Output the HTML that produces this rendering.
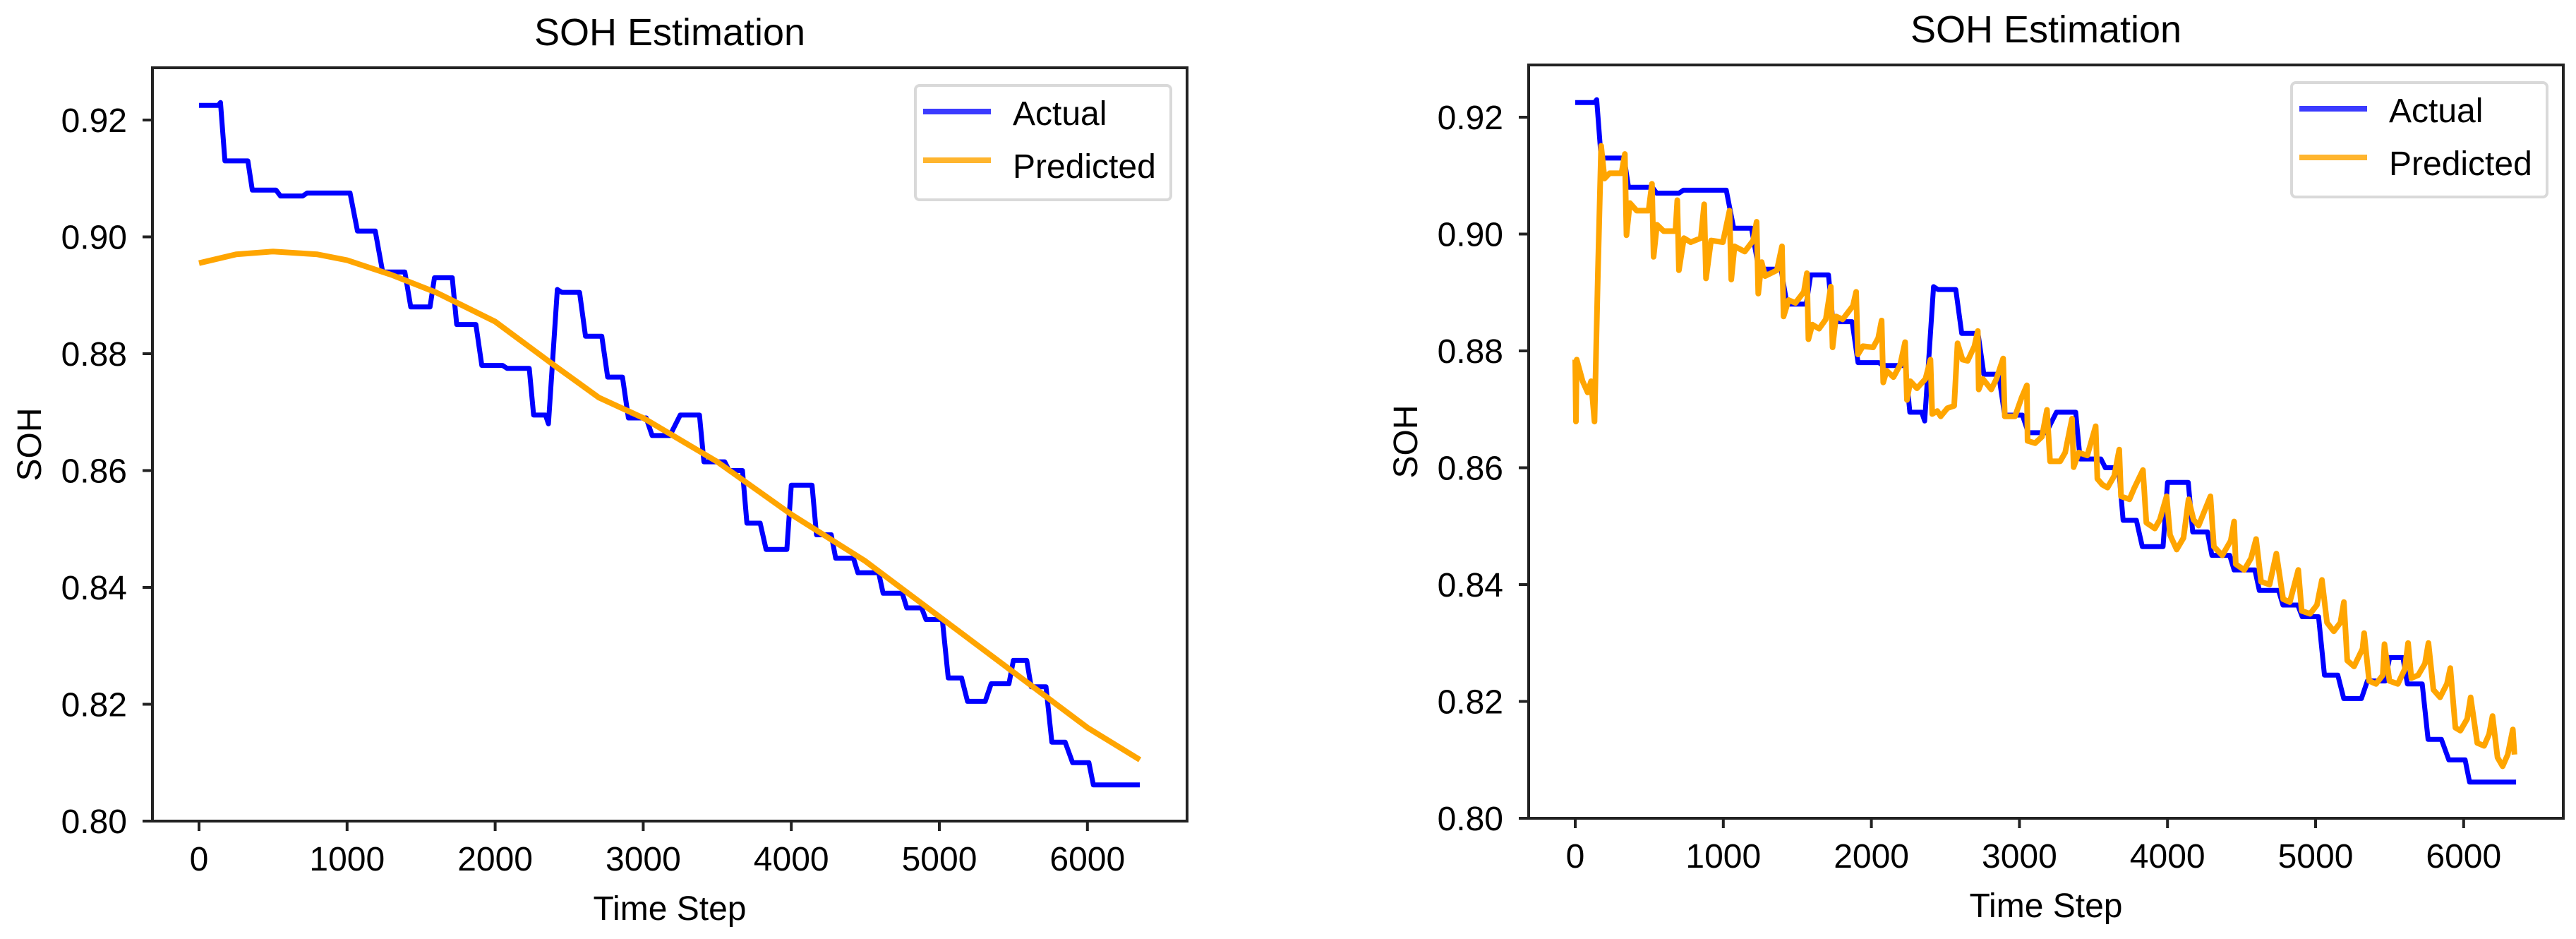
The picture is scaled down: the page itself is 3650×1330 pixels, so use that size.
<!DOCTYPE html>
<html><head><meta charset="utf-8"><style>
html,body{margin:0;padding:0;background:#fff;}
svg{display:block;font-family:"Liberation Sans","DejaVu Sans",sans-serif;}
</style></head><body>
<svg id="c" width="3650" height="1330" viewBox="0 0 3650 1330"></svg>
<script>
const xTicks=[0,1000,2000,3000,4000,5000,6000];
const yTicks=[0.80,0.82,0.84,0.86,0.88,0.90,0.92];
const yTickLabels=["0.80","0.82","0.84","0.86","0.88","0.90","0.92"];
const actualT=[0,130,145,175,330,360,520,550,700,730,1020,1070,1190,1240,1390,1430,1560,1590,1710,1740,1870,1910,2050,2080,2230,2260,2340,2360,2420,2450,2570,2610,2720,2760,2860,2900,3020,3060,3180,3250,3380,3410,3550,3580,3670,3700,3790,3830,3970,4000,4140,4170,4270,4300,4420,4450,4590,4620,4750,4780,4880,4910,5020,5060,5150,5190,5310,5350,5470,5500,5590,5620,5720,5760,5850,5900,6010,6040,6354];
const actualV=[.9225,.9225,.923,.913,.913,.908,.908,.907,.907,.9075,.9075,.901,.901,.894,.894,.888,.888,.893,.893,.885,.885,.878,.878,.8775,.8775,.8695,.8695,.868,.891,.8905,.8905,.883,.883,.876,.876,.869,.869,.866,.866,.8695,.8695,.8615,.8615,.860,.860,.851,.851,.8465,.8465,.8575,.8575,.849,.849,.845,.845,.8425,.8425,.839,.839,.8365,.8365,.8345,.8345,.8245,.8245,.8205,.8205,.8235,.8235,.8275,.8275,.823,.823,.8135,.8135,.810,.810,.8062,.8062];
const smoothT=[0,250,500,800,1000,1300,1600,2000,2400,2700,3000,3500,4000,4500,5000,5500,6000,6354];
const smoothV=[.8955,.897,.8975,.897,.896,.8935,.8905,.8855,.878,.8725,.869,.8615,.8525,.8445,.835,.8255,.816,.8105];
const predT=[0,5,10,50,84,107,130,153,175,198,232,312,335,346,369,415,495,518,529,552,597,677,689,700,734,780,848,871,883,917,997,1042,1054,1076,1145,1202,1225,1236,1259,1282,1362,1396,1407,1441,1487,1544,1565,1575,1601,1647,1692,1726,1738,1761,1806,1875,1897,1909,1943,2012,2046,2069,2080,2103,2149,2194,2228,2240,2263,2308,2365,2399,2411,2445,2468,2514,2559,2582,2616,2650,2696,2719,2725,2753,2810,2844,2890,2901,2970,3015,3050,3055,3106,3152,3186,3207,3275,3309,3355,3366,3401,3458,3515,3526,3560,3595,3640,3674,3686,3743,3777,3834,3857,3914,3948,3994,4017,4062,4108,4142,4176,4210,4290,4313,4370,4427,4450,4461,4518,4564,4598,4632,4689,4735,4781,4826,4883,4906,4963,5009,5043,5077,5123,5168,5191,5214,5260,5317,5328,5362,5408,5454,5465,5499,5556,5602,5625,5647,5693,5739,5762,5796,5841,5887,5910,5944,5978,6024,6047,6092,6138,6172,6195,6229,6263,6298,6332,6343];
const predV=[.8785,.8679,.8785,.8748,.8729,.8748,.8679,.8933,.9151,.9095,.9104,.9104,.9137,.8998,.9053,.9040,.9040,.9086,.8961,.9016,.9005,.9005,.9058,.8938,.8993,.8986,.8993,.9051,.8924,.8989,.8986,.9040,.8922,.8979,.8970,.8989,.9021,.8898,.8952,.8928,.8938,.8979,.8859,.8887,.8882,.8901,.8933,.8820,.8845,.8838,.8854,.8910,.8806,.8859,.8854,.8877,.8901,.8794,.8808,.8806,.8822,.8852,.8746,.8766,.8755,.8776,.8815,.8716,.8748,.8736,.8752,.8785,.8692,.8697,.8688,.8702,.8706,.8813,.8785,.8783,.8808,.8834,.8734,.8752,.8734,.8752,.8787,.8688,.8688,.8720,.8741,.8646,.8642,.8653,.8699,.8611,.8611,.8626,.8684,.8601,.8626,.8621,.8671,.8581,.8571,.8566,.8586,.8631,.8551,.8546,.8566,.8596,.8506,.8496,.8511,.8551,.8485,.8460,.8480,.8546,.8511,.8501,.8551,.8465,.8450,.8475,.8508,.8435,.8425,.8445,.8478,.8405,.8400,.8453,.8375,.8370,.8425,.8355,.8350,.8365,.8408,.8335,.8320,.8335,.8370,.8270,.8260,.8290,.8317,.8235,.8230,.8245,.8298,.8235,.8230,.8255,.8300,.8240,.8245,.8265,.8300,.8220,.8207,.8230,.8257,.8155,.8150,.8170,.8207,.8129,.8124,.8144,.8175,.8104,.8089,.8109,.8152,.8109];

const NS="http://www.w3.org/2000/svg";
const svg=document.getElementById('c');
function mk(tag,attrs,parent){const e=document.createElementNS(NS,tag);for(const k in attrs)e.setAttribute(k,attrs[k]);(parent||svg).appendChild(e);return e;}

function panel(id,left,top,bottom,predTs,predVs){
  const right=left+1466;
  const x0=left+66, xs=0.2098;
  const y92=top+74, ys=8275;
  const X=t=>x0+t*xs;
  const Y=v=>y92+(0.92-v)*ys;
  const g=mk('g',{});
  
  
  const title=mk('text',{x:(left+right)/2,y:top-32,'font-size':54,'text-anchor':'middle',fill:'#000'},g);
  title.textContent='SOH Estimation';
  
  
  function line(ts,vs,color,w,name){
    let d='';for(let i=0;i<ts.length;i++){d+=(i?'L':'M')+X(ts[i]).toFixed(1)+','+Y(vs[i]).toFixed(1);}
    const p=mk('path',{d:d,fill:'none',stroke:color,'stroke-width':w,'stroke-linejoin':'round'},g);
    
    
  }
  line(actualT,actualV,'#0000ff',7,'actual-line');
  line(predTs,predVs,'#ffa500',8,'predicted-line');
  const fr=mk('rect',{x:left,y:top,width:right-left,height:bottom-top,fill:'none',stroke:'#222','stroke-width':4},g);
  
  
  xTicks.forEach(t=>{
    const tk=mk('line',{x1:X(t),x2:X(t),y1:bottom,y2:bottom+14,stroke:'#222','stroke-width':4},g);
    
    
    const tl=mk('text',{x:X(t),y:bottom+70,'font-size':48,'text-anchor':'middle',fill:'#000'},g);
    tl.textContent=String(t);
    
    
  });
  yTicks.forEach((v,i)=>{
    const tk=mk('line',{x1:left-14,x2:left,y1:Y(v),y2:Y(v),stroke:'#222','stroke-width':4},g);
    
    
    const tl=mk('text',{x:left-36,y:Y(v)+17,'font-size':48,'text-anchor':'end',fill:'#000'},g);
    tl.textContent=yTickLabels[i];
    
    
  });
  const xl=mk('text',{x:(left+right)/2,y:bottom+140,'font-size':48,'text-anchor':'middle',fill:'#000'},g);
  xl.textContent='Time Step';
  
  
  const cy=(top+bottom)/2, lx=left-158;
  const yl=mk('text',{x:lx,y:cy,'font-size':48,'text-anchor':'middle',fill:'#000',transform:'rotate(-90 '+lx+' '+cy+')'},g);
  yl.textContent='SOH';
  
  
  const lg=mk('g',{},g);
  
  
  const bx=right-385, by=top+25;
  mk('rect',{x:bx,y:by,width:362,height:162,rx:6,fill:'#fff',stroke:'#d9d9d9','stroke-width':4},lg);
  const e1=mk('line',{x1:bx+11,x2:bx+107,y1:by+37,y2:by+37,stroke:'#3b3bff','stroke-width':8},lg);
  
  
  const t1=mk('text',{x:bx+138,y:by+56,'font-size':48,fill:'#000'},lg);t1.textContent='Actual';
  const e2=mk('line',{x1:bx+11,x2:bx+107,y1:by+106,y2:by+106,stroke:'#ffb52e','stroke-width':8},lg);
  
  
  const t2=mk('text',{x:bx+138,y:by+131,'font-size':48,fill:'#000'},lg);t2.textContent='Predicted';
}
panel('left',216,96,1163,smoothT,smoothV);
panel('right',2166,92,1159,predT,predV);
</script>
</body></html>
